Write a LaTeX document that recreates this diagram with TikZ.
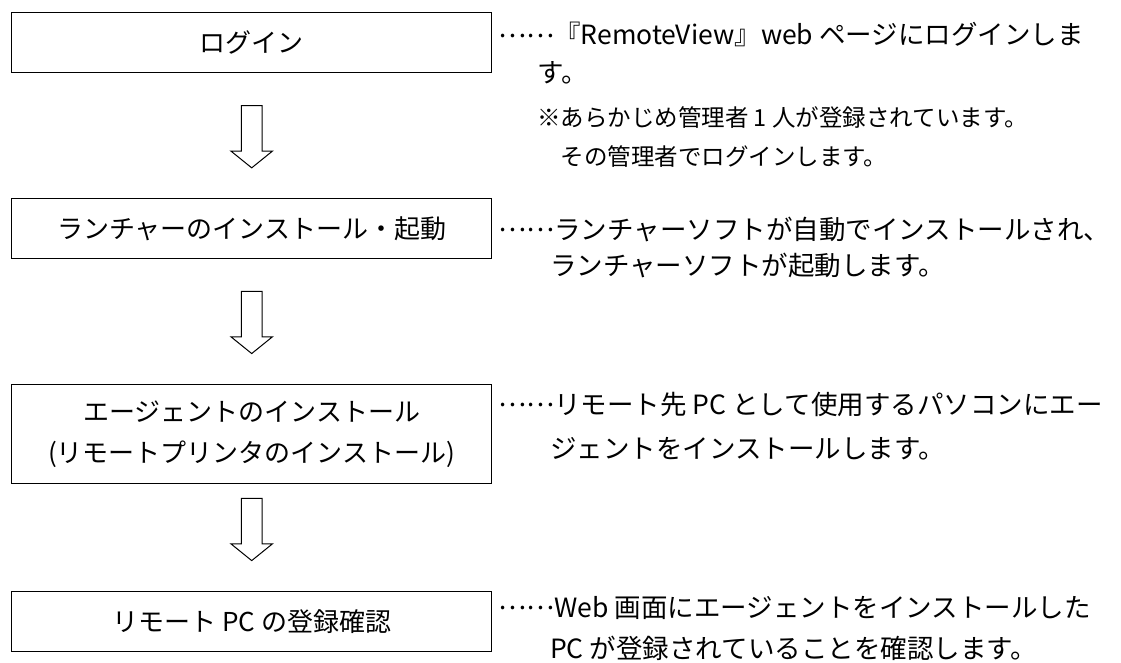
\documentclass[tikz,border=0pt]{standalone}
\usepackage{fontspec}
\setmainfont{Noto Sans CJK JP}
\newcommand\jpleader{\raisebox{0.3em}{……}}
\begin{document}
\begin{tikzpicture}[x=1pt,y=-1pt,
  box/.style={draw=black,line width=1.1pt,minimum width=480pt,minimum height=60pt,inner sep=0pt,
    font=\fontsize{26}{41}\selectfont,align=center},
  desc/.style={anchor=base west,inner sep=0pt,font=\fontsize{26.5}{40}\selectfont},
  note/.style={anchor=base west,inner sep=0pt,font=\fontsize{23.5}{36}\selectfont},
  blockarrow/.pic={\draw[line width=1pt,line join=miter,fill=white]
    (-10.3,0) -- (-10.3,45.5) -- (-20.8,45.5) -- (0,62.3) -- (20.8,45.5) -- (10.3,45.5) -- (10.3,0) -- cycle;}]
\useasboundingbox[fill=white] (0,0) rectangle (1121,663);
% boxes
\node[box] (b1) at (251.7,42.7) {ログイン};
\node[box] (b2) at (251.7,228.7) {ランチャーのインストール・起動};
\node[box,minimum height=99.5pt] (b3) at (251.7,434) {エージェントのインストール\\(リモートプリンタのインストール)};
\node[box] (b4) at (251.7,621.7) {リモート PC の登録確認};
% arrows
\path (b1.south) ++(0,32.3) pic {blockarrow};
\path (b2.south) ++(0,32) pic {blockarrow};
\path (b3.south) ++(0,14) pic {blockarrow};
% descriptions
\node[desc] (t1a) at (498,45) {\jpleader 『RemoteView』web ページにログインしま};
\node[desc] (t1b) at (537,83) {す。};
\node[note] (t1c) at (537,127) {※あらかじめ管理者 1 人が登録されています。};
\node[note] (t1d) at (537,166) {　その管理者でログインします。};
\node[desc] (t2a) at (498,239) {\jpleader ランチャーソフトが自動でインストールされ、};
\node[desc] (t2b) at (550,275) {ランチャーソフトが起動します。};
\node[desc] (t3a) at (498,414) {\jpleader リモート先 PC として使用するパソコンにエー};
\node[desc] (t3b) at (550,458) {ジェントをインストールします。};
\node[desc] (t4a) at (498,617) {\jpleader Web 画面にエージェントをインストールした};
\node[desc] (t4b) at (550,658) {PC が登録されていることを確認します。};
\end{tikzpicture}
\end{document}
